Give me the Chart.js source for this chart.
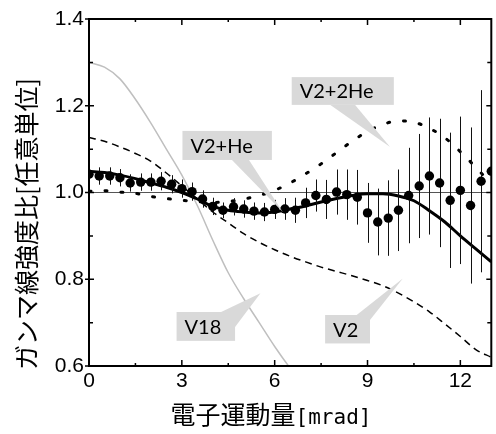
<!DOCTYPE html>
<html>
<head>
<meta charset="utf-8">
<script src="https://cdn.jsdelivr.net/npm/chart.js@4"></script>
<style>
  html, body { margin: 0; padding: 0; background: #fff; }
  canvas { display: block; }
</style>
</head>
<body>
<canvas id="chartID" width="496" height="434"></canvas>
<script>
'use strict';

// measured points with error bars
const pointX = [0, 0.33, 0.67, 1.0, 1.33, 1.67, 2.0, 2.33, 2.67, 3.0,
                3.33, 3.67, 4.0, 4.33, 4.67, 5.0, 5.33, 5.67, 6.0, 6.33,
                6.67, 7.0, 7.33, 7.67, 8.0, 8.33, 8.67, 9.0, 9.33, 9.67,
                10.0, 10.33, 10.67, 11.0, 11.33, 11.67, 12.0, 12.33, 12.67, 13.0];
const pointY = [1.042, 1.038, 1.038, 1.034, 1.022, 1.024, 1.024, 1.026, 1.019, 1.009,
                1.002, 0.985, 0.968, 0.959, 0.967, 0.962, 0.957, 0.955, 0.961, 0.962,
                0.959, 0.976, 0.993, 0.984, 1.001, 0.995, 0.989, 0.953, 0.932, 0.941,
                0.959, 0.993, 1.015, 1.038, 1.022, 0.982, 1.005, 0.970, 1.026, 1.049];
const pointErr = [0.020, 0.020, 0.020, 0.020, 0.020, 0.020, 0.020, 0.021, 0.021, 0.021,
                  0.021, 0.020, 0.020, 0.018, 0.020, 0.020, 0.020, 0.021, 0.022, 0.025,
                  0.029, 0.035, 0.037, 0.045, 0.052, 0.058, 0.063, 0.069, 0.077, 0.087,
                  0.094, 0.110, 0.120, 0.135, 0.148, 0.156, 0.170, 0.180, 0.210, 0.220];

// model curves
const curveX = [0, 0.5, 1, 1.5, 2, 2.5, 3, 3.5, 4, 4.5, 5, 5.5, 6, 6.5,
                7, 7.5, 8, 8.5, 9, 9.5, 10, 10.5, 11, 11.5, 12, 12.5, 13];
const v2 = [1.127, 1.118, 1.105, 1.090, 1.072, 1.045, 1.015, 0.985, 0.955, 0.930, 0.905, 0.885, 0.868, 0.853,
            0.840, 0.828, 0.818, 0.808, 0.797, 0.785, 0.768, 0.748, 0.725, 0.697, 0.668, 0.638, 0.620];
const v2He = [1.049, 1.046, 1.040, 1.032, 1.022, 1.012, 1.000, 0.985, 0.968, 0.959, 0.955, 0.953, 0.955, 0.962,
              0.969, 0.978, 0.986, 0.993, 0.997, 0.997, 0.992, 0.981, 0.958, 0.932, 0.900, 0.870, 0.840];
const v2TwoHe = [1.003, 1.004, 1.001, 0.998, 0.991, 0.986, 0.982, 0.979, 0.977, 0.979, 0.985, 0.993, 1.005, 1.022,
                 1.043, 1.066, 1.092, 1.118, 1.141, 1.157, 1.165, 1.162, 1.148, 1.126, 1.094, 1.058, 1.020];
const v18X = [0, 0.5, 1, 1.5, 2, 2.5, 3, 3.5, 4, 4.5, 5, 5.5, 6, 6.5, 7];
const v18 = [1.300, 1.289, 1.262, 1.215, 1.160, 1.100, 1.040, 0.970, 0.890, 0.815, 0.755, 0.700, 0.645, 0.595, 0.550];

const xTicks = [0, 3, 6, 9, 12];
const xMinor = [1.5, 4.5, 7.5, 10.5];
const yTicks = [0.6, 0.8, 1.0, 1.2, 1.4];
const yMinor = [0.7, 0.9, 1.1, 1.3];

// callout labels, in data units: box [x1, y1, x2, y2] and pointer triangle
const callouts = [
  { text: 'V2+2He', box: [6.55, 1.266, 9.85, 1.202], wedge: [[7.80, 1.202], [8.60, 1.202], [9.73, 1.105]] },
  { text: 'V2+He', box: [3.02, 1.142, 5.91, 1.075], wedge: [[4.62, 1.075], [5.17, 1.075], [6.26, 0.955]] },
  { text: 'V18', box: [2.83, 0.7245, 4.72, 0.658], wedge: [[4.27, 0.7245], [4.72, 0.69], [5.54, 0.768]] },
  { text: 'V2', box: [7.63, 0.7176, 9.08, 0.652], wedge: [[8.65, 0.7176], [9.08, 0.706], [10.14, 0.802]] }
];

function toPts(xs, ys) {
  return xs.map((x, i) => ({ x: x, y: ys[i] }));
}

const extras = {
  id: 'extras',
  beforeDatasetDraw(chart, args) {
    if (args.index !== 0) return;
    const ctx = chart.ctx, a = chart.chartArea;
    const xs = chart.scales.x, ys = chart.scales.y;
    ctx.save();
    ctx.beginPath();
    ctx.rect(a.left, a.top, a.right - a.left, a.bottom - a.top);
    ctx.clip();
    ctx.strokeStyle = '#111';
    ctx.lineWidth = 1;
    for (let i = 0; i < pointX.length; i++) {
      const px = Math.round(xs.getPixelForValue(pointX[i])) + 0.5;
      ctx.beginPath();
      ctx.moveTo(px, ys.getPixelForValue(pointY[i] - pointErr[i]));
      ctx.lineTo(px, ys.getPixelForValue(pointY[i] + pointErr[i]));
      ctx.stroke();
    }
    ctx.restore();
  },
  afterDatasetsDraw(chart) {
    const ctx = chart.ctx;
    const xs = chart.scales.x, ys = chart.scales.y;
    ctx.save();
    for (const c of callouts) {
      const x1 = xs.getPixelForValue(c.box[0]), y1 = ys.getPixelForValue(c.box[1]);
      const x2 = xs.getPixelForValue(c.box[2]), y2 = ys.getPixelForValue(c.box[3]);
      ctx.fillStyle = '#d9d9d9';
      ctx.fillRect(x1, y1, x2 - x1, y2 - y1);
      ctx.beginPath();
      c.wedge.forEach((p, j) => {
        const px = xs.getPixelForValue(p[0]), py = ys.getPixelForValue(p[1]);
        if (j === 0) ctx.moveTo(px, py); else ctx.lineTo(px, py);
      });
      ctx.closePath();
      ctx.fill();
      ctx.fillStyle = '#000';
      ctx.font = '20px Lato, "Open Sans", sans-serif';
      ctx.textAlign = 'left';
      ctx.textBaseline = 'middle';
      ctx.fillText(c.text, x1 + 8, (y1 + y2) / 2 + 1);
    }
    ctx.restore();
  },
  afterDraw(chart) {
    const ctx = chart.ctx, a = chart.chartArea;
    const xs = chart.scales.x, ys = chart.scales.y;
    ctx.save();
    ctx.strokeStyle = '#000';
    ctx.lineWidth = 2;
    ctx.strokeRect(a.left, a.top, a.right - a.left, a.bottom - a.top);

    ctx.lineWidth = 1.5;
    ctx.beginPath();
    for (const v of xTicks) {
      const px = xs.getPixelForValue(v);
      ctx.moveTo(px, a.bottom); ctx.lineTo(px, a.bottom - 6);
      ctx.moveTo(px, a.top); ctx.lineTo(px, a.top + 6);
    }
    for (const v of xMinor) {
      const px = xs.getPixelForValue(v);
      ctx.moveTo(px, a.bottom); ctx.lineTo(px, a.bottom - 3);
      ctx.moveTo(px, a.top); ctx.lineTo(px, a.top + 3);
    }
    for (const v of yTicks) {
      const py = ys.getPixelForValue(v);
      ctx.moveTo(a.left - 4, py); ctx.lineTo(a.left + 5, py);
      ctx.moveTo(a.right, py); ctx.lineTo(a.right - 5, py);
    }
    for (const v of yMinor) {
      const py = ys.getPixelForValue(v);
      ctx.moveTo(a.left, py); ctx.lineTo(a.left + 4, py);
      ctx.moveTo(a.right, py); ctx.lineTo(a.right - 4, py);
    }
    ctx.stroke();

    // axis titles
    ctx.fillStyle = '#000';
    ctx.textBaseline = 'alphabetic';
    const cjk = '電子運動量', unit = '[mrad]';
    ctx.font = '25px "Noto Sans CJK JP"';
    const w1 = ctx.measureText(cjk).width;
    ctx.font = '21px "DejaVu Sans Mono", "Liberation Mono", monospace';
    const w2 = ctx.measureText(unit).width;
    let tx = 271 - (w1 + w2) / 2;
    ctx.textAlign = 'left';
    ctx.font = '25px "Noto Sans CJK JP"';
    ctx.fillText(cjk, tx, 424);
    ctx.font = '21px "DejaVu Sans Mono", "Liberation Mono", monospace';
    ctx.fillText(unit, tx + w1, 424);

    ctx.translate(26, 224);
    ctx.rotate(-Math.PI / 2);
    ctx.textAlign = 'center';
    ctx.textBaseline = 'middle';
    ctx.font = '25px "Noto Sans CJK JP"';
    ctx.fillText('ガンマ線強度比[任意単位]', 0, 0);
    ctx.restore();
  }
};

const data = {
  datasets: [
    {
      label: 'data',
      data: toPts(pointX, pointY),
      showLine: false,
      pointRadius: 4.7,
      backgroundColor: '#000',
      borderColor: '#000',
      borderWidth: 0,
      clip: 0,
      order: 0
    },
    {
      label: 'V2+He',
      data: toPts(curveX, v2He),
      showLine: true,
      borderColor: '#000',
      borderWidth: 3,
      pointRadius: 0,
      cubicInterpolationMode: 'monotone',
      order: 1
    },
    {
      label: 'V2+2He',
      data: toPts(curveX, v2TwoHe),
      showLine: true,
      borderColor: '#000',
      borderWidth: 3,
      borderDash: [2, 14],
      borderCapStyle: 'round',
      pointRadius: 0,
      cubicInterpolationMode: 'monotone',
      order: 2
    },
    {
      label: 'V2',
      data: toPts(curveX, v2),
      showLine: true,
      borderColor: '#000',
      borderWidth: 1.5,
      borderDash: [7, 5],
      pointRadius: 0,
      cubicInterpolationMode: 'monotone',
      order: 3
    },
    {
      label: 'V18',
      data: toPts(v18X, v18),
      showLine: true,
      borderColor: '#bfbfbf',
      borderWidth: 1.5,
      pointRadius: 0,
      cubicInterpolationMode: 'monotone',
      order: 4
    },
    {
      label: 'unity',
      data: [{ x: 0, y: 1 }, { x: 13, y: 1 }],
      showLine: true,
      borderColor: '#555',
      borderWidth: 1.2,
      pointRadius: 0,
      order: 5
    }
  ]
};

const config = {
  type: 'scatter',
  data: data,
  options: {
    responsive: false,
    animation: false,
    events: [],
    devicePixelRatio: 1,
    layout: { padding: { left: 0, right: 2, top: 19, bottom: 0 } },
    plugins: { legend: { display: false }, tooltip: { enabled: false } },
    scales: {
      x: {
        type: 'linear',
        min: 0,
        max: 13,
        grid: { display: false, drawTicks: false },
        border: { display: false },
        afterBuildTicks: s => { s.ticks = xTicks.map(v => ({ value: v })); },
        afterFit: s => { s.height = 68; },
        ticks: {
          color: '#000',
          font: { family: '"Liberation Sans", Arial, sans-serif', size: 21 },
          padding: 3,
          maxRotation: 0,
          autoSkip: false,
          callback: v => String(v)
        }
      },
      y: {
        type: 'linear',
        min: 0.6,
        max: 1.4,
        grid: { display: false, drawTicks: false },
        border: { display: false },
        afterBuildTicks: s => { s.ticks = yTicks.map(v => ({ value: v })); },
        afterFit: s => { s.width = 89; },
        ticks: {
          color: '#000',
          font: { family: '"Liberation Sans", Arial, sans-serif', size: 21 },
          padding: 5,
          autoSkip: false,
          callback: v => v.toFixed(1)
        }
      }
    }
  },
  plugins: [extras]
};

const gammaChart = new Chart(document.getElementById('chartID'), config);
</script>
</body>
</html>
